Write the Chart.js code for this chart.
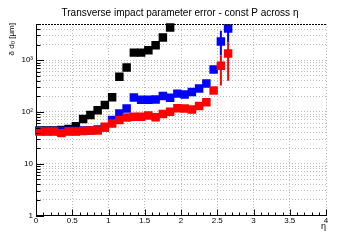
<!DOCTYPE html>
<html>
<head>
<meta charset="utf-8">
<script src="https://cdn.jsdelivr.net/npm/chart.js@4.4.1/dist/chart.umd.min.js"></script>
<style>
  html, body { margin: 0; padding: 0; background: #fff; }
</style>
</head>
<body>
<canvas id="d0Error" width="360" height="240"></canvas>
<script>
// eta bin centres (bins 0.1 wide)
const etaBins = [0.05, 0.15, 0.25, 0.35, 0.45, 0.55, 0.65, 0.75, 0.85, 0.95,
                 1.05, 1.15, 1.25, 1.35, 1.45, 1.55, 1.65, 1.75, 1.85, 1.95,
                 2.05, 2.15, 2.25, 2.35, 2.45, 2.55, 2.65];

// delta d0 [um]
const blackValues = [44, 44, 44, 45, 47, 53, 73, 87, 108, 136,
                     192, 480, 720, 1400, 1400, 1550, 1950, 2750, 4300];
const blueValues = [43, 43, 43, 43, 43, 43, 44, 44, 46, 50,
                    70, 93, 117, 190, 172, 172, 174, 203, 188, 226,
                    217, 242, 283, 353, 659, 2290, 4100];
const redValues = [42, 42, 42, 39, 42, 42, 43, 44, 44, 52,
                   60, 70, 78, 81, 81, 85, 79, 91, 101, 118,
                   117, 112, 130, 154, 259, 777, 1340];

// the only error bars that stick out of the markers
const errEta = [2.55, 2.65];
const blueErrLow = [1230, 2200];
const blueErrHigh = [3700, 6000];
const redErrLow = [324, 400];
const redErrHigh = [1230, 2200];

// axis ticks
const xMajorTicks = [0, 0.5, 1, 1.5, 2, 2.5, 3, 3.5, 4];
const xTickLabels = ['0', '0.5', '1', '1.5', '2', '2.5', '3', '3.5', '4'];
const yMajorTicks = [1, 10, 100, 1000];
const yTickLabels = ['1', '10', '10\u00b2', '10\u00b3'];

const FONT = 'Liberation Sans, Arial, sans-serif';

// all log ticks 1,2..9,10,20.. up to 5000
let yTickValues = [];
yMajorTicks.forEach(function (d) {
    for (let m = 1; m <= 9; m++) {
        if (m * d <= 5000) yTickValues.push(m * d);
    }
});

function toPoints(values) {
    return values.map(function (v, i) { return { x: etaBins[i], y: v }; });
}

const decor = {
    id: 'decor',
    beforeDatasetsDraw(chart) {
        const ctx = chart.ctx, xs = chart.scales.x, ys = chart.scales.y, a = chart.chartArea;
        ctx.save();
        ctx.beginPath();
        ctx.rect(a.left, a.top, a.right - a.left, a.bottom - a.top);
        ctx.clip();
        ctx.lineWidth = 2;
        [['#0000ff', blueErrLow, blueErrHigh], ['#ff0000', redErrLow, redErrHigh]].forEach(function (s) {
            ctx.strokeStyle = s[0];
            errEta.forEach(function (e, i) {
                const x = xs.getPixelForValue(e);
                ctx.beginPath();
                ctx.moveTo(x, ys.getPixelForValue(s[1][i]));
                ctx.lineTo(x, ys.getPixelForValue(s[2][i]));
                ctx.stroke();
            });
        });
        ctx.restore();
    },
    afterDraw(chart) {
        const ctx = chart.ctx, xs = chart.scales.x, ys = chart.scales.y, a = chart.chartArea;
        ctx.save();
        ctx.strokeStyle = '#000';
        ctx.lineWidth = 1;
        // inward ticks on the y axis
        yTickValues.forEach(function (v) {
            const y = Math.round(ys.getPixelForValue(v)) + 0.5;
            const len = yMajorTicks.indexOf(v) >= 0 ? 8 : 4.5;
            ctx.beginPath();
            ctx.moveTo(a.left, y);
            ctx.lineTo(a.left + len, y);
            ctx.stroke();
        });
        // inward ticks on the x axis
        for (let k = 0; k <= 40; k++) {
            const x = Math.round(xs.getPixelForValue(k / 10)) + 0.5;
            const len = k % 5 === 0 ? 6 : 3;
            ctx.beginPath();
            ctx.moveTo(x, a.bottom);
            ctx.lineTo(x, a.bottom - len);
            ctx.stroke();
        }
        // dashed top edge
        ctx.setLineDash([2, 1]);
        ctx.beginPath();
        ctx.moveTo(a.left, a.top + 0.5);
        ctx.lineTo(a.right, a.top + 0.5);
        ctx.stroke();
        ctx.setLineDash([]);

        ctx.fillStyle = '#000';
        ctx.font = '10px ' + FONT;
        ctx.textAlign = 'center';
        ctx.textBaseline = 'middle';
        ctx.fillText('Transverse impact parameter error - const P across \u03b7', 180, 13);

        ctx.font = '9px ' + FONT;
        ctx.textAlign = 'right';
        ctx.fillText('\u03b7', a.right, 227);

        ctx.translate(12, a.top - 1);
        ctx.rotate(-Math.PI / 2);
        ctx.font = '8px ' + FONT;
        ctx.textAlign = 'right';
        ctx.fillText('\u03b4 d\u2080 [\u03bcm]', 0, 0);
        ctx.restore();
    }
};

const ctx = document.getElementById('d0Error').getContext('2d');
const d0Error = new Chart(ctx, {
    type: 'scatter',
    data: {
        datasets: [{
            label: 'red',
            data: toPoints(redValues),
            backgroundColor: '#ff0000',
            order: 0
        }, {
            label: 'blue',
            data: toPoints(blueValues),
            backgroundColor: '#0000ff',
            order: 1
        }, {
            label: 'black',
            data: toPoints(blackValues),
            backgroundColor: '#000000',
            order: 2
        }]
    },
    options: {
        responsive: false,
        animation: false,
        devicePixelRatio: 1,
        layout: { padding: { top: 24, right: 34, left: 0, bottom: 0 } },
        elements: {
            point: { pointStyle: 'rect', radius: 6, borderWidth: 0, hoverRadius: 6 }
        },
        datasets: { scatter: { clip: 1 } },
        plugins: {
            legend: { display: false },
            tooltip: { enabled: false },
            title: { display: false }
        },
        scales: {
            x: {
                type: 'linear',
                min: 0,
                max: 4,
                afterBuildTicks: function (s) {
                    s.ticks = xMajorTicks.map(function (v) { return { value: v }; });
                },
                afterFit: function (s) { s.height = 24.5; },
                ticks: {
                    callback: function (v, i) { return xTickLabels[i]; },
                    autoSkip: false,
                    maxRotation: 0,
                    padding: 0,
                    color: '#000',
                    font: { family: FONT, size: 8 }
                },
                grid: { color: '#bcbcbc', lineWidth: 1, drawTicks: false },
                border: { display: true, color: '#000', width: 1, dash: [1, 2] }
            },
            y: {
                type: 'logarithmic',
                min: 1,
                max: 5000,
                afterBuildTicks: function (s) {
                    s.ticks = yTickValues.map(function (v) { return { value: v }; });
                },
                afterFit: function (s) { s.width = 36; },
                ticks: {
                    callback: function (v) {
                        const k = yMajorTicks.indexOf(v);
                        return k >= 0 ? yTickLabels[k] : '';
                    },
                    autoSkip: false,
                    padding: 3,
                    color: '#000',
                    font: { family: FONT, size: 8 }
                },
                grid: { color: '#bcbcbc', lineWidth: 1, drawTicks: false },
                border: { display: true, color: '#000', width: 1, dash: [1, 2] }
            }
        }
    },
    plugins: [decor]
});
</script>
</body>
</html>
